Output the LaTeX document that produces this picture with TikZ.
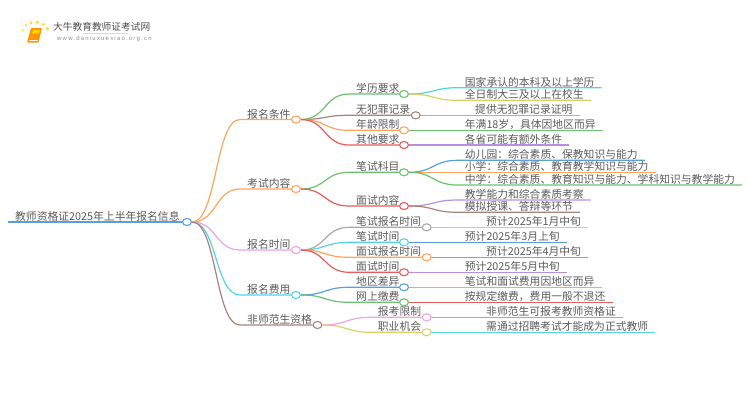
\documentclass[tikz,border=0pt]{standalone}
\usepackage{fontspec}
\usepackage{xcolor}
\setmainfont{Noto Sans CJK SC}
\newfontfamily\urlfont[LetterSpace=20]{Liberation Sans}
\usetikzlibrary{shapes.geometric}
\definecolor{cGreen}{HTML}{6CC070}
\definecolor{cOrange}{HTML}{FFA45C}
\definecolor{cRed}{HTML}{EC5B5B}
\definecolor{cPurple}{HTML}{B78FE0}
\definecolor{cBrown}{HTML}{A9827C}
\definecolor{cCyan}{HTML}{50D5E8}
\definecolor{cYellow}{HTML}{D6D268}
\definecolor{cBlue}{HTML}{5A9FD8}
\definecolor{cGray}{HTML}{A9A9A9}
\definecolor{cPink}{HTML}{F2A2DE}
\definecolor{cText}{HTML}{5A5A5A}
\tikzset{
  lab/.style={anchor=south west,inner xsep=7pt,inner ysep=0pt,text height=9.5pt,text depth=1.3pt,
    font=\fontsize{10.8pt}{11pt}\selectfont,text=cText},
  dot/.style={ellipse,draw,fill=white,line width=1.1pt,inner sep=0pt,minimum width=9pt,minimum height=7pt},
  conn/.style={line width=1.2pt},
  sun/.style={fill=#1,draw=none}
}
\begin{document}
\begin{tikzpicture}[x=1pt,y=-1pt]
  \useasboundingbox (0,0) rectangle (750,410);
  % logo
  \fill [sun=yellow!70!orange!80] (22.7,30) circle (1.2);
  \fill [sun=yellow!70!orange!80] (26,25.3) circle (1.4);
  \fill [sun=yellow!70!orange!80] (31,22.7) circle (1.7);
  \fill [sun=yellow!70!orange!80] (37.3,22.3) circle (1.8);
  \fill [sun=yellow!70!orange!80] (43.3,24.3) circle (1.6);
  \fill [sun=yellow!70!orange!80] (47.3,28.7) circle (1.9);
  \fill [sun=yellow!30] (21.7,36) circle (1);
  \fill [sun=yellow!20] (22.7,41.7) circle (.9);
  \fill [orange!85!yellow, rounded corners=1pt] (31,28) -- (42,28) -- (38.5,42.5) -- (27,42.5) -- cycle;
  \fill [yellow!70!orange, rounded corners=.5pt] (33,30) -- (40,30) -- (39,33.5) -- (32,33.5) -- cycle;
  \draw [white, line width=.6pt] (28.5,40.7) -- (38,40.7);
  \node [anchor=west, inner sep=0pt, text=black!70, font=\fontsize{9.7pt}{10pt}\selectfont] (logoT) at (53,27) {大牛教育教师证考试网};
  \node [anchor=west, inner sep=0pt, text=black!45, font=\fontsize{6pt}{7pt}\urlfont] (logoU) at (57,39) {www.daniuxuexiao.org.cn};
  \draw [black!15, line width=.5pt] (logoT.south west) ++(30,1.5) -- ++(45,0);

  % dots
  \node [dot, draw=cBlue] (root) at (187,222) {};
  \node [dot, draw=cOrange] (bmtj) at (296,119.5) {};
  \node [dot, draw=cOrange] (ksnr) at (296,189) {};
  \node [dot, draw=cPink] (bmsj) at (296,250) {};
  \node [dot, draw=cCyan] (bmfy) at (296,295) {};
  \node [dot, draw=cBrown] (fsf) at (317.5,325) {};
  \node [dot, draw=cGreen] (xl) at (404,94) {};
  \node [dot, draw=cBrown] (wfz) at (415.7,115.3) {};
  \node [dot, draw=cOrange] (nl) at (404,130.3) {};
  \node [dot, draw=cRed] (qt) at (404,145) {};
  \node [dot, draw=cGreen] (bskm) at (404,172.3) {};
  \node [dot, draw=cRed] (msnr) at (404,206) {};
  \node [dot, draw=cGray] (bsbm) at (426.7,227.3) {};
  \node [dot, draw=cCyan] (bssj) at (404,242.3) {};
  \node [dot, draw=cOrange] (msbm) at (426.7,257.3) {};
  \node [dot, draw=cRed] (mssj) at (404,272.3) {};
  \node [dot, draw=cBlue] (dq) at (404,287.3) {};
  \node [dot, draw=cGreen] (wsjf) at (404,302.3) {};
  \node [dot, draw=cPink] (bkxz) at (426.7,317.3) {};
  \node [dot, draw=cYellow] (zyjh) at (426.7,332.3) {};

  % labels on the branches
  \node [lab] (rootT) at (8,222) {教师资格证2025年上半年报名信息};
  \node [lab] (bmtjT) at (240,119.5) {报名条件};
  \node [lab] (ksnrT) at (240,189) {考试内容};
  \node [lab] (bmsjT) at (240,250) {报名时间};
  \node [lab] (bmfyT) at (240,295) {报名费用};
  \node [lab] (fsfT) at (240,325) {非师范生资格};
  \node [lab] (xlT) at (349,94) {学历要求};
  \node [lab] (wfzT) at (349,115.3) {无犯罪记录};
  \node [lab] (nlT) at (349,130.3) {年龄限制};
  \node [lab] (qtT) at (349,145) {其他要求};
  \node [lab] (bskmT) at (349,172.3) {笔试科目};
  \node [lab] (msnrT) at (349,206) {面试内容};
  \node [lab] (bsbmT) at (349,227.3) {笔试报名时间};
  \node [lab] (bssjT) at (349,242.3) {笔试时间};
  \node [lab] (msbmT) at (349,257.3) {面试报名时间};
  \node [lab] (mssjT) at (349,272.3) {面试时间};
  \node [lab] (dqT) at (349,287.3) {地区差异};
  \node [lab] (wsjfT) at (349,302.3) {网上缴费};
  \node [lab] (bkxzT) at (370.7,317.3) {报考限制};
  \node [lab] (zyjhT) at (370.7,332.3) {职业机会};

  % leaves
  \node [lab] (l1) at (457.7,87.7) {国家承认的本科及以上学历};
  \node [lab] (l2) at (457.7,100.3) {全日制大三及以上在校生};
  \node [lab] (l3) at (468,115.3) {提供无犯罪记录证明};
  \node [lab] (l4) at (457.7,130.3) {年满18岁，具体因地区而异};
  \node [lab] (l5) at (457.7,145) {各省可能有额外条件};
  \node [lab] (l6) at (457.7,160.3) {幼儿园：综合素质、保教知识与能力};
  \node [lab] (l7) at (457.7,172.3) {小学：综合素质、教育教学知识与能力};
  \node [lab] (l8) at (457.7,185) {中学：综合素质、教育知识与能力、学科知识与教学能力};
  \node [lab] (l9) at (457.7,200) {教学能力和综合素质考察};
  \node [lab] (l10) at (457.7,212.3) {模拟授课、答辩等环节};
  \node [lab] (l11) at (479,227.3) {预计2025年1月中旬};
  \node [lab] (l12) at (457.7,242.3) {预计2025年3月上旬};
  \node [lab] (l13) at (479,257.3) {预计2025年4月中旬};
  \node [lab] (l14) at (457.7,272.3) {预计2025年5月中旬};
  \node [lab] (l15) at (457.7,287.3) {笔试和面试费用因地区而异};
  \node [lab] (l16) at (457.7,302.3) {按规定缴费，费用一般不退还};
  \node [lab] (l17) at (479,317.3) {非师范生可报考教师资格证};
  \node [lab] (l18) at (479,332.3) {需通过招聘考试才能成为正式教师};

  % root and first level
  \draw [conn, cBlue] (rootT.south west) -- (root.west);
  \draw [conn, cOrange] (root.east) .. controls +(25,0) and +(-25,0) .. (bmtjT.south west) -- (bmtj.west);
  \draw [conn, cOrange] (root.east) .. controls +(25,0) and +(-25,0) .. (ksnrT.south west) -- (ksnr.west);
  \draw [conn, cPink] (root.east) .. controls +(25,0) and +(-25,0) .. (bmsjT.south west) -- (bmsj.west);
  \draw [conn, cCyan] (root.east) .. controls +(25,0) and +(-25,0) .. (bmfyT.south west) -- (bmfy.west);
  \draw [conn, cBrown] (root.east) .. controls +(25,0) and +(-25,0) .. (fsfT.south west) -- (fsf.west);

  % second level
  \draw [conn, cGreen] (bmtj.east) .. controls +(25,0) and +(-25,0) .. (xlT.south west) -- (xl.west);
  \draw [conn, cBrown] (bmtj.east) .. controls +(25,0) and +(-25,0) .. (wfzT.south west) -- (wfz.west);
  \draw [conn, cOrange] (bmtj.east) .. controls +(25,0) and +(-25,0) .. (nlT.south west) -- (nl.west);
  \draw [conn, cRed] (bmtj.east) .. controls +(25,0) and +(-25,0) .. (qtT.south west) -- (qt.west);
  \draw [conn, cGreen] (ksnr.east) .. controls +(25,0) and +(-25,0) .. (bskmT.south west) -- (bskm.west);
  \draw [conn, cRed] (ksnr.east) .. controls +(25,0) and +(-25,0) .. (msnrT.south west) -- (msnr.west);
  \draw [conn, cGray] (bmsj.east) .. controls +(25,0) and +(-25,0) .. (bsbmT.south west) -- (bsbm.west);
  \draw [conn, cCyan] (bmsj.east) .. controls +(25,0) and +(-25,0) .. (bssjT.south west) -- (bssj.west);
  \draw [conn, cOrange] (bmsj.east) .. controls +(25,0) and +(-25,0) .. (msbmT.south west) -- (msbm.west);
  \draw [conn, cRed] (bmsj.east) .. controls +(25,0) and +(-25,0) .. (mssjT.south west) -- (mssj.west);
  \draw [conn, cBlue] (bmfy.east) .. controls +(25,0) and +(-25,0) .. (dqT.south west) -- (dq.west);
  \draw [conn, cGreen] (bmfy.east) .. controls +(25,0) and +(-25,0) .. (wsjfT.south west) -- (wsjf.west);
  \draw [conn, cPink] (fsf.east) .. controls +(25,0) and +(-25,0) .. (bkxzT.south west) -- (bkxz.west);
  \draw [conn, cYellow] (fsf.east) .. controls +(25,0) and +(-25,0) .. (zyjhT.south west) -- (zyjh.west);

  % third level
  \draw [conn, cCyan] (xl.east) .. controls +(25,0) and +(-25,0) .. (l1.south west) -- (l1.south east);
  \draw [conn, cYellow] (xl.east) .. controls +(25,0) and +(-25,0) .. (l2.south west) -- (l2.south east);
  \draw [conn, cCyan] (wfz.east) -- (l3.south east);
  \draw [conn, cGreen] (nl.east) -- (l4.south east);
  \draw [conn, cPurple] (qt.east) -- (l5.south east);
  \draw [conn, cBlue] (bskm.east) .. controls +(25,0) and +(-25,0) .. (l6.south west) -- (l6.south east);
  \draw [conn, cOrange] (bskm.east) -- (l7.south east);
  \draw [conn, cGreen] (bskm.east) .. controls +(25,0) and +(-25,0) .. (l8.south west) -- (l8.south east);
  \draw [conn, cPurple] (msnr.east) .. controls +(25,0) and +(-25,0) .. (l9.south west) -- (l9.south east);
  \draw [conn, cBrown] (msnr.east) .. controls +(25,0) and +(-25,0) .. (l10.south west) -- (l10.south east);
  \draw [conn, cYellow] (bsbm.east) -- (l11.south east);
  \draw [conn, cBlue] (bssj.east) -- (l12.south east);
  \draw [conn, cGreen] (msbm.east) -- (l13.south east);
  \draw [conn, cPurple] (mssj.east) -- (l14.south east);
  \draw [conn, cOrange] (dq.east) -- (l15.south east);
  \draw [conn, cRed] (wsjf.east) -- (l16.south east);
  \draw [conn, cGray] (bkxz.east) -- (l17.south east);
  \draw [conn, cCyan] (zyjh.east) -- (l18.south east);
\end{tikzpicture}
\end{document}
